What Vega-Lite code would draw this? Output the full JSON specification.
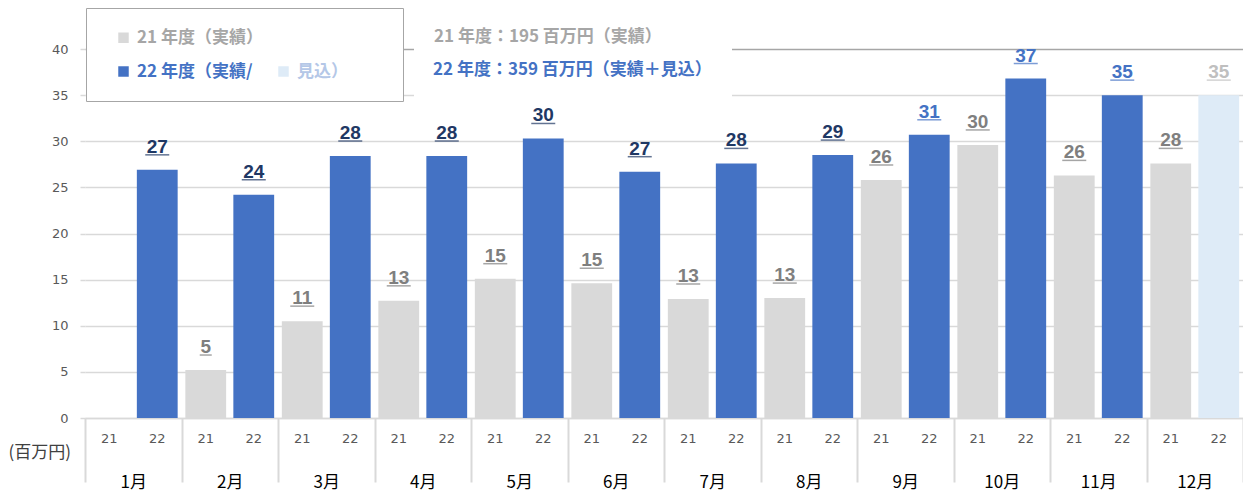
{
  "$schema": "https://vega.github.io/schema/vega-lite/v6.json",
  "width": 1158,
  "height": 369,
  "autosize": {"type": "none"},
  "padding": {"left": 85, "top": 49, "right": 0, "bottom": 77},
  "background": "white",
  "config": {"view": {"stroke": null}, "font": "Noto Sans CJK JP"},
  "datasets": {
    "bars": [
      {"month": "1月", "year": "21", "series": "21", "value": null},
      {"month": "1月", "year": "22", "series": "22", "value": 26.9},
      {"month": "2月", "year": "21", "series": "21", "value": 5.2},
      {"month": "2月", "year": "22", "series": "22", "value": 24.2},
      {"month": "3月", "year": "21", "series": "21", "value": 10.5},
      {"month": "3月", "year": "22", "series": "22", "value": 28.4},
      {"month": "4月", "year": "21", "series": "21", "value": 12.7},
      {"month": "4月", "year": "22", "series": "22", "value": 28.4},
      {"month": "5月", "year": "21", "series": "21", "value": 15.1},
      {"month": "5月", "year": "22", "series": "22", "value": 30.3},
      {"month": "6月", "year": "21", "series": "21", "value": 14.6},
      {"month": "6月", "year": "22", "series": "22", "value": 26.7},
      {"month": "7月", "year": "21", "series": "21", "value": 12.9},
      {"month": "7月", "year": "22", "series": "22", "value": 27.6},
      {"month": "8月", "year": "21", "series": "21", "value": 13.0},
      {"month": "8月", "year": "22", "series": "22", "value": 28.5},
      {"month": "9月", "year": "21", "series": "21", "value": 25.8},
      {"month": "9月", "year": "22", "series": "22", "value": 30.7},
      {"month": "10月", "year": "21", "series": "21", "value": 29.6},
      {"month": "10月", "year": "22", "series": "22", "value": 36.8},
      {"month": "11月", "year": "21", "series": "21", "value": 26.3},
      {"month": "11月", "year": "22", "series": "22", "value": 35.0},
      {"month": "12月", "year": "21", "series": "21", "value": 27.6},
      {"month": "12月", "year": "22", "series": "見込", "value": 35.0}
    ],
    "notes": [
      {"note": "22 年度：359 百万円（実績＋見込）"}
    ]
  },
  "data": {"name": "bars"},
  "resolve": {"scale": {"color": "independent"}, "legend": {"color": "independent"}},
  "encoding": {
    "x": {
      "field": "month",
      "type": "nominal",
      "sort": ["1月", "2月", "3月", "4月", "5月", "6月", "7月", "8月", "9月", "10月", "11月", "12月"],
      "scale": {"paddingInner": 0, "paddingOuter": 0},
      "axis": {
        "title": null,
        "tickBand": "extent",
        "tickSize": 64,
        "tickColor": "#d9d9d9",
        "tickWidth": 2,
        "domainColor": "#d9d9d9",
        "domainWidth": 1.5,
        "labelPadding": -8,
        "labelFont": "Noto Sans CJK JP",
        "labelFontSize": 17,
        "labelColor": "#000000",
        "labelAngle": 0,
        "grid": false
      }
    },
    "xOffset": {
      "field": "year",
      "type": "nominal",
      "sort": ["21", "22"],
      "scale": {"paddingInner": 0.15, "paddingOuter": 0.08}
    }
  },
  "layer": [
    {
      "mark": {"type": "bar"},
      "encoding": {
        "y": {
          "field": "value",
          "type": "quantitative",
          "scale": {"domain": [0, 40], "nice": false},
          "axis": {
            "values": [0, 5, 10, 15, 20, 25, 30, 35, 40],
            "grid": true,
            "gridColor": {"condition": {"test": "datum.value == 40", "value": "#a6a6a6"}, "value": "#d9d9d9"},
            "gridWidth": 1.5,
            "domain": false,
            "ticks": true,
            "tickSize": 5,
            "tickColor": "#d9d9d9",
            "tickWidth": 1.5,
            "labelFont": "DejaVu Sans",
            "labelFontSize": 13,
            "labelColor": "#595959",
            "labelPadding": 12,
            "title": "(百万円)",
            "titleAngle": 0,
            "titleAlign": "left",
            "titleBaseline": "middle",
            "titleX": -77,
            "titleY": 403,
            "titleFont": "Noto Sans CJK JP",
            "titleFontSize": 17,
            "titleFontWeight": "normal",
            "titleColor": "#404040"
          }
        },
        "color": {
          "field": "series",
          "type": "nominal",
          "scale": {
            "domain": ["21", "21_", "22", "見込"],
            "range": ["#d9d9d9", "#ffffff", "#4472c4", "#deebf7"]
          },
          "legend": {
            "orient": "none",
            "direction": "horizontal",
            "legendX": 1,
            "legendY": -41,
            "title": null,
            "columns": 2,
            "columnPadding": 4,
            "rowPadding": 16,
            "padding": 21,
            "symbolOffset": 8,
            "symbolType": "square",
            "symbolSize": 110,
            "symbolStrokeWidth": 0,
            "labelFont": "Noto Sans CJK JP",
            "labelFontSize": 17,
            "labelFontWeight": "bold",
            "labelLimit": 600,
            "labelOffset": 5,
            "labelExpr": "datum.value == '21' ? '21 年度（実績）' : datum.value == '22' ? '22 年度（実績/' : datum.value == '見込' ? '見込）' : 'ＸＸＸＸＸ'",
            "fillColor": "#ffffff",
            "strokeColor": "#a6a6a6",
            "encode": {
              "legend": {"strokeWidth": {"value": 1.5}},
              "symbols": {
                "fill": {"condition": [{"test": "datum.value == '21'", "value": "#a6a6a6"}, {"test": "datum.value == '22'", "value": "#4472c4"}], "value": "#b4c7e7"},
                "opacity": {"condition": {"test": "datum.value == '21_'", "value": 0}, "value": 1},
                "update": {
                  "fill": {"signal": "datum.value == '21' ? '#a6a6a6' : datum.value == '22' ? '#4472c4' : '#b4c7e7'"},
                  "opacity": {"signal": "datum.value == '21_' ? 0 : 1"}
                }
              },
              "labels": {
                "fill": {"condition": [{"test": "datum.value == '21'", "value": "#a6a6a6"}, {"test": "datum.value == '22'", "value": "#4472c4"}, {"test": "datum.value == '21_'", "value": "#ffffff"}], "value": "#b4c7e7"},
                "update": {
                  "fill": {"signal": "datum.value == '21' ? '#a6a6a6' : datum.value == '22' ? '#4472c4' : datum.value == '21_' ? '#ffffff' : '#b4c7e7'"}
                }
              }
            }
          }
        }
      }
    },
    {
      "mark": {"type": "text", "font": "Liberation Sans", "fontSize": 19, "fontWeight": "bold", "baseline": "alphabetic", "dy": -17},
      "encoding": {
        "y": {"field": "value", "type": "quantitative"},
        "text": {"field": "value", "type": "quantitative", "format": ".0f"},
        "color": {
          "condition": [
            {"test": "datum.series == '見込'", "value": "#bfbfbf"},
            {"test": "datum.year == '21'", "value": "#7f7f7f"},
            {"test": "indexof(['9月', '10月', '11月'], datum.month) >= 0", "value": "#4472c4"}
          ],
          "value": "#1f3864"
        }
      }
    },
    {
      "mark": {"type": "tick", "thickness": 1.5, "yOffset": -15},
      "encoding": {
        "y": {"field": "value", "type": "quantitative"},
        "size": {"condition": {"test": "datum.value < 9.5", "value": 12}, "value": 24},
        "color": {
          "condition": [
            {"test": "datum.series == '見込'", "value": "#bfbfbf"},
            {"test": "datum.year == '21'", "value": "#7f7f7f"},
            {"test": "indexof(['9月', '10月', '11月'], datum.month) >= 0", "value": "#4472c4"}
          ],
          "value": "#1f3864"
        }
      }
    },
    {
      "mark": {"type": "text", "font": "DejaVu Sans", "fontSize": 13, "baseline": "middle", "dy": 21, "color": "#595959"},
      "encoding": {
        "y": {"datum": 0},
        "text": {"field": "year", "type": "nominal"}
      }
    },
    {
      "data": {"name": "notes"},
      "mark": {"type": "point", "opacity": 0},
      "encoding": {
        "x": null,
        "xOffset": null,
        "color": {
          "field": "note",
          "type": "nominal",
          "scale": {"range": ["#4472c4"]},
          "legend": {
            "orient": "none",
            "legendX": 329,
            "legendY": -40.5,
            "title": "21 年度：195 百万円（実績）",
            "titleColor": "#a6a6a6",
            "titleFont": "Noto Sans CJK JP",
            "titleFontSize": 17,
            "titleFontWeight": "bold",
            "titleLimit": 600,
            "titlePadding": 16,
            "titleAnchor": "start",
            "padding": 20,
            "symbolSize": 0,
            "symbolOpacity": 0,
            "symbolOffset": 0,
            "labelOffset": -18,
            "labelFont": "Noto Sans CJK JP",
            "labelFontSize": 17,
            "labelFontWeight": "bold",
            "labelLimit": 600,
            "labelColor": "#4472c4",
            "fillColor": "#ffffff"
          }
        }
      }
    }
  ]
}
